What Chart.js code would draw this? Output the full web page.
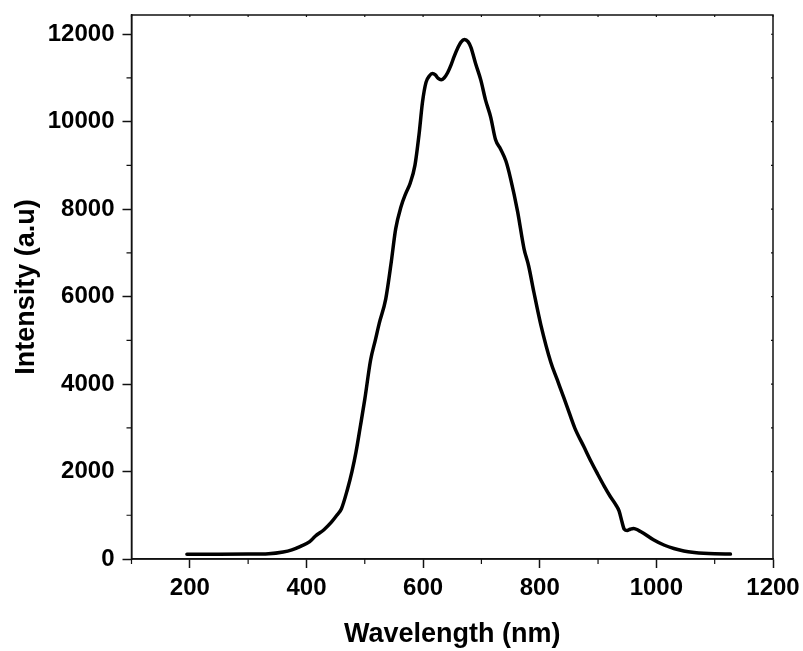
<!DOCTYPE html>
<html>
<head>
<meta charset="utf-8">
<script src="https://cdn.jsdelivr.net/npm/chart.js@4"></script>
<style>
  html, body { margin: 0; padding: 0; background: #fff; }
  #wrap { width: 803px; height: 651px; position: relative; }
</style>
</head>
<body>
<div id="wrap"><canvas id="specChart" width="803" height="651"></canvas></div>
<script>
// values
const wavelength = [195, 250, 300, 335, 360, 375, 390, 405, 415, 430, 442, 452, 460, 470, 478, 485, 492, 500, 510, 518,
  525, 536, 545, 553, 562, 570, 578, 586, 593, 599, 605, 611, 616, 621, 626, 631, 636, 642, 648, 653,
  660, 665, 671, 677, 682, 690, 699, 707, 716, 724, 733, 742, 750, 762, 773, 781, 790, 802, 819, 830,
  841, 847, 860, 876, 888, 899, 910, 921, 930, 936, 941, 945, 950, 955, 961, 970, 978, 995, 1013, 1030,
  1047, 1065, 1081, 1100, 1127];
const intensity = [110, 110, 112, 120, 160, 210, 290, 390, 520, 670, 830, 1000, 1150, 1580, 2000, 2450, 3000, 3650, 4550, 5000,
  5400, 5950, 6750, 7550, 8050, 8350, 8600, 9000, 9700, 10450, 10900, 11050, 11100, 11070, 10990, 10960, 11000, 11120, 11300, 11480,
  11700, 11820, 11880, 11830, 11700, 11330, 10950, 10500, 10100, 9600, 9370, 9100, 8700, 7950, 7100, 6700, 6100, 5350, 4500, 4100,
  3700, 3480, 3000, 2560, 2230, 1950, 1680, 1430, 1250, 1100, 850, 680, 650, 680, 700, 650, 590, 440, 320, 240,
  185, 150, 130, 118, 112];

const xTicks = [200, 400, 600, 800, 1000, 1200];
const yTicks = [0, 2000, 4000, 6000, 8000, 10000, 12000];
const xMinor = [100, 300, 500, 700, 900, 1100];
const yMinor = [1000, 3000, 5000, 7000, 9000, 11000];

const points = wavelength.map((w, i) => ({ x: w, y: intensity[i] }));

// frame + minor ticks
const framePlugin = {
  id: 'frame',
  afterDraw(chart) {
    const { ctx, chartArea: a, scales: { x, y } } = chart;
    ctx.save();
    ctx.strokeStyle = '#111';
    ctx.lineWidth = 1.5;
    ctx.strokeRect(a.left, a.top, a.right - a.left, a.bottom - a.top);
    ctx.lineWidth = 1.2;
    ctx.beginPath();
    xMinor.forEach(v => {
      const px = x.getPixelForValue(v);
      ctx.moveTo(px, a.bottom); ctx.lineTo(px, a.bottom + 5);
    });
    yMinor.forEach(v => {
      const py = y.getPixelForValue(v);
      ctx.moveTo(a.left, py); ctx.lineTo(a.left - 5, py);
    });
    // small inward ticks on top and right
    xTicks.concat(xMinor).forEach(v => {
      const px = x.getPixelForValue(v);
      ctx.moveTo(px, a.top); ctx.lineTo(px, a.top + 2);
    });
    yTicks.concat(yMinor).forEach(v => {
      const py = y.getPixelForValue(v);
      ctx.moveTo(a.right, py); ctx.lineTo(a.right - 2, py);
    });
    ctx.stroke();
    ctx.restore();
  }
};

const tickFont = { family: 'Arial, "Liberation Sans", sans-serif', size: 24, weight: 'bold' };
const titleFont = { family: 'Arial, "Liberation Sans", sans-serif', size: 27, weight: 'bold' };

new Chart(document.getElementById('specChart').getContext('2d'), {
  type: 'line',
  data: {
    datasets: [{
      data: points,
      borderColor: '#000',
      borderWidth: 3.5,
      borderCapStyle: 'round',
      pointRadius: 0,
      cubicInterpolationMode: 'monotone',
      fill: false
    }]
  },
  options: {
    responsive: false,
    animation: false,
    events: [],
    layout: { padding: { top: 15, right: 30, left: 0, bottom: 0 } },
    plugins: { legend: { display: false }, tooltip: { enabled: false } },
    scales: {
      x: {
        type: 'linear',
        min: 100,
        max: 1200,
        afterBuildTicks: s => { s.ticks = xTicks.map(v => ({ value: v })); },
        afterFit: s => { s.height = 92; s.paddingLeft = 0; s.paddingRight = 0; },
        grid: { drawOnChartArea: false, drawTicks: true, tickLength: 9, tickWidth: 1.5, tickColor: '#111' },
        border: { display: true, color: '#111', width: 1.5 },
        ticks: { color: '#000', font: tickFont, padding: 6, maxRotation: 0, autoSkip: false, callback: v => String(v) },
        title: { display: true, text: 'Wavelength (nm)', color: '#000', font: titleFont, padding: { top: 6, bottom: 0 } }
      },
      y: {
        type: 'linear',
        min: 0,
        max: 12440,
        afterBuildTicks: s => { s.ticks = yTicks.map(v => ({ value: v })); },
        afterFit: s => { s.width = 131.5; s.paddingTop = 0; s.paddingBottom = 0; },
        grid: { drawOnChartArea: false, drawTicks: true, tickLength: 9, tickWidth: 1.5, tickColor: '#111' },
        border: { display: true, color: '#111', width: 1.5 },
        ticks: { color: '#000', font: tickFont, padding: 8, autoSkip: false, callback: v => String(v) },
        title: { display: true, text: 'Intensity (a.u)', color: '#000', font: titleFont, padding: { top: 10, bottom: 0 } }
      }
    }
  },
  plugins: [framePlugin]
});
</script>
</body>
</html>
